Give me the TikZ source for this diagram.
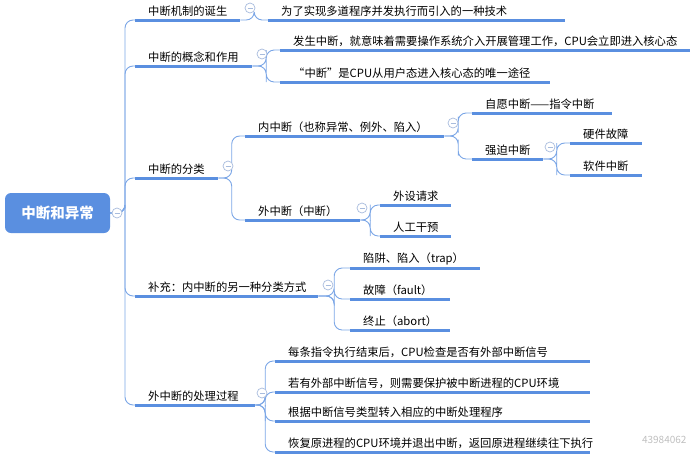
\documentclass[tikz,border=0pt]{standalone}
\usepackage{fontspec}
\setmainfont{Noto Sans CJK SC}
\usetikzlibrary{calc}
\definecolor{ub}{HTML}{5A8FE0}
\definecolor{cb}{HTML}{7BA6E6}
\definecolor{gc}{HTML}{A8BCDD}
\tikzset{
 lbl/.style={inner xsep=0pt,inner ysep=3pt,anchor=south west,align=left,font=\fontsize{11.3}{13}\selectfont},
 ul/.style={ub,line width=3pt},
 cn/.style={cb,line width=0.9pt,rounded corners=8pt},
 circ/.style={circle,draw=gc,fill=white,line width=0.7pt,minimum size=10pt,inner sep=0pt,
   path picture={\draw[gc,line width=0.7pt] ([xshift=-2.5pt]path picture bounding box.center)--([xshift=2.5pt]path picture bounding box.center);}}
}
\newcommand{\un}[5]{\node[lbl,text width=#4pt] (#1) at (#2,#3) {\mbox{\hspace*{13pt}#5}};\draw[ul] (#1.south west)--(#1.south east);}
\newcommand{\lk}[2]{\draw[cn] (#1.south east) -| ($(#1.south east)!.5!(#2.south west)$) |- (#2.south west);}
\begin{document}
\begin{tikzpicture}[x=1pt,y=-1pt]
\useasboundingbox (0,0) rectangle (692,458);
\node[fill=ub,rounded corners=6pt,minimum width=105pt,minimum height=40pt,text=white,font=\fontsize{14.5}{16}\selectfont\bfseries] (root) at (57.5,213) {中断和异常};
% level 1
\un{a}{135}{20}{105}{中断机制的诞生}
\un{b}{135}{66}{117}{中断的概念和作用}
\un{c}{135}{178}{83}{中断的分类}
\un{d}{135}{296}{183}{补充：内中断的另一种分类方式}
\un{e}{135}{405}{120}{外中断的处理过程}
\foreach \n in {a,b,c,d,e}{\draw[cn] (root.east) -| (125,213) |- (\n.south west);}
% a
\un{a1}{268}{20}{297}{为了实现多道程序并发执行而引入的一种技术}
\lk{a}{a1}
% b
\un{b1}{280}{50}{410}{发生中断，就意味着需要操作系统介入开展管理工作，CPU会立即进入核心态}
\un{b2}{280}{82}{270}{“中断”是CPU从用户态进入核心态的唯一途径}
\lk{b}{b1}\lk{b}{b2}
% c
\un{c1}{245}{136}{199}{内中断（也称异常、例外、陷入）}
\un{c2}{245}{220}{115}{外中断（中断）}
\lk{c}{c1}\lk{c}{c2}
\un{c11}{472}{113}{140}{自愿中断——指令中断}
\un{c12}{472}{159}{71}{强迫中断}
\lk{c1}{c11}\lk{c1}{c12}
\un{c121}{570}{143}{72}{硬件故障}
\un{c122}{570}{175}{72}{软件中断}
\lk{c12}{c121}\lk{c12}{c122}
\un{c21}{380}{205}{71}{外设请求}
\un{c22}{380}{236}{71}{人工干预}
\lk{c2}{c21}\lk{c2}{c22}
% d
\un{d1}{350}{268}{130}{陷阱、陷入（trap）}
\un{d2}{350}{299}{100}{故障（fault）}
\un{d3}{350}{330}{100}{终止（abort）}
\lk{d}{d1}\lk{d}{d2}\lk{d}{d3}
% e
\un{e1}{275}{361}{315}{每条指令执行结束后，CPU检查是否有外部中断信号}
\un{e2}{275}{392}{315}{若有外部中断信号，则需要保护被中断进程的CPU环境}
\un{e3}{275}{421}{315}{根据中断信号类型转入相应的中断处理程序}
\un{e4}{275}{452}{315}{恢复原进程的CPU环境并退出中断，返回原进程继续往下执行}
\lk{e}{e1}\lk{e}{e2}\lk{e}{e3}\lk{e}{e4}
% collapse circles
\node[circ] (k0) at (117,213) {};
\node[circ] (k1) at (250,8) {};
\node[circ] (k2) at (262,54) {};
\node[circ] (k3) at (228,166) {};
\node[circ] (k4) at (453,123) {};
\node[circ] (k5) at (550,147) {};
\node[circ] (k6) at (362,208) {};
\node[circ] (k7) at (328,285) {};
\node[circ] (k8) at (262,393) {};
\node[text=black!25,font=\fontsize{10}{12}\selectfont,anchor=east] (wm) at (690,440) {43984062};
\end{tikzpicture}
\end{document}
